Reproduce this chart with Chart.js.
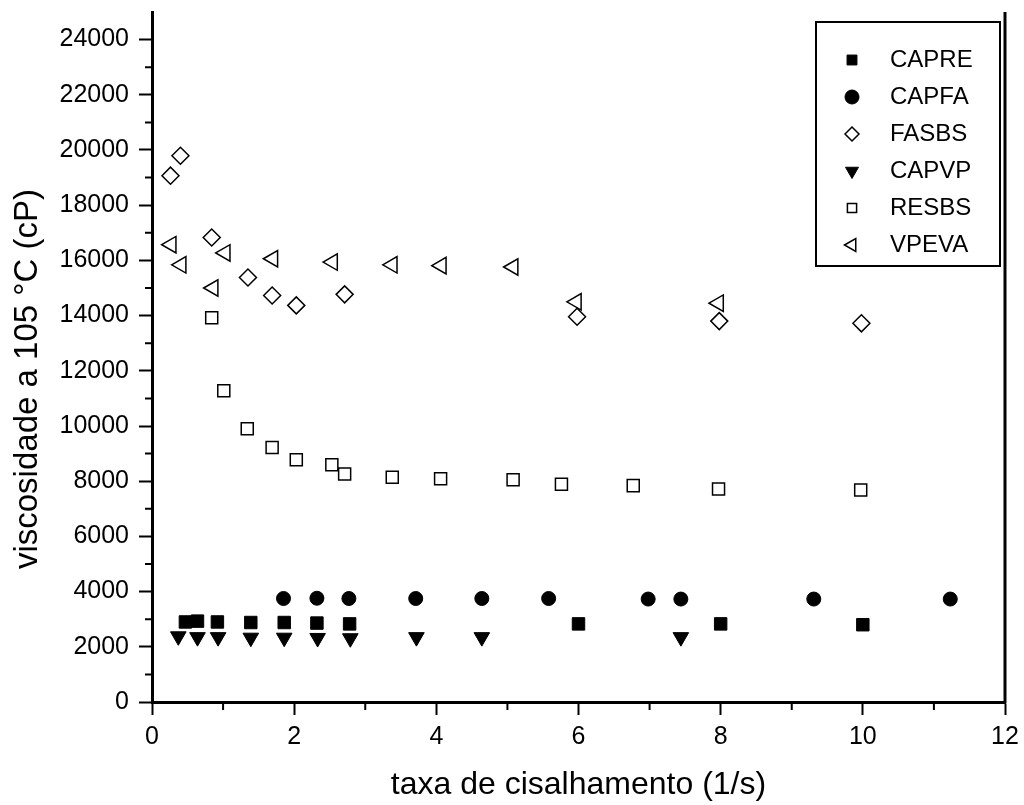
<!DOCTYPE html>
<html lang="pt">
<head>
<meta charset="UTF-8">
<title>Viscosidade a 105 °C</title>
<script src="https://cdn.jsdelivr.net/npm/chart.js"></script>
<style>
  html, body { margin: 0; padding: 0; background: #fff; }
  #wrap { width: 1024px; height: 805px; }
</style>
</head>
<body>
<div id="wrap"><canvas id="chart" width="1024" height="805"></canvas></div>
<script>
// axis ticks
const xTicks = [0, 2, 4, 6, 8, 10, 12];
const xMinor = [1, 3, 5, 7, 9, 11];
const yTicks = [0, 2000, 4000, 6000, 8000, 10000, 12000, 14000, 16000, 18000, 20000, 22000, 24000];
const yMinor = [1000, 3000, 5000, 7000, 9000, 11000, 13000, 15000, 17000, 19000, 21000, 23000];

// series
const capreX = [0.47, 0.64, 0.92, 1.39, 1.86, 2.32, 2.78, 6.0, 8.0, 10.0];
const capreY = [2900, 2930, 2900, 2880, 2880, 2860, 2830, 2830, 2830, 2800];

const capfaX = [1.85, 2.32, 2.77, 3.71, 4.64, 5.58, 6.98, 7.44, 9.31, 11.23];
const capfaY = [3750, 3760, 3750, 3750, 3750, 3750, 3730, 3730, 3730, 3730];

const fasbsX = [0.26, 0.40, 0.84, 1.35, 1.69, 2.03, 2.71, 5.98, 7.98, 9.98];
const fasbsY = [19070, 19790, 16830, 15380, 14730, 14370, 14770, 13960, 13800, 13720];

const capvpX = [0.37, 0.64, 0.93, 1.39, 1.86, 2.33, 2.79, 3.72, 4.64, 7.44];
const capvpY = [2380, 2350, 2350, 2330, 2330, 2320, 2310, 2350, 2350, 2350];

const resbsX = [0.84, 1.01, 1.34, 1.69, 2.03, 2.53, 2.71, 3.38, 4.06, 5.08, 5.76, 6.77, 7.97, 9.97];
const resbsY = [13920, 11280, 9900, 9220, 8780, 8600, 8260, 8140, 8090, 8050, 7890, 7840, 7720, 7680];

const vpevaX = [0.27, 0.41, 0.86, 1.03, 1.70, 2.54, 3.38, 4.07, 5.08, 5.97, 7.97];
const vpevaY = [16570, 15840, 15000, 16270, 16060, 15940, 15840, 15810, 15760, 14500, 14450];

const xTitle = 'taxa de cisalhamento (1/s)';
const yTitle = 'viscosidade a 105 °C (cP)';

const FONT = "'Liberation Sans', Arial, sans-serif";

function pts(xs, ys) {
  return xs.map((x, i) => ({ x: x, y: ys[i] }));
}

const datasets = [
  { label: 'CAPRE', data: pts(capreX, capreY), pointStyle: 'rect', pointRadius: 8.8,
    backgroundColor: '#000', borderColor: '#000', borderWidth: 1, legendRadius: 7 },
  { label: 'CAPFA', data: pts(capfaX, capfaY), pointStyle: 'circle', pointRadius: 7,
    backgroundColor: '#000', borderColor: '#000', borderWidth: 1, legendRadius: 7 },
  { label: 'FASBS', data: pts(fasbsX, fasbsY), pointStyle: 'rectRot', pointRadius: 8.5,
    backgroundColor: 'rgba(0,0,0,0)', borderColor: '#000', borderWidth: 1.5, legendRadius: 7 },
  { label: 'CAPVP', data: pts(capvpX, capvpY), pointStyle: 'triangle', pointRotation: 180, pointRadius: 9,
    backgroundColor: '#000', borderColor: '#000', borderWidth: 1, legendRadius: 7.5 },
  { label: 'RESBS', data: pts(resbsX, resbsY), pointStyle: 'rect', pointRadius: 8.5,
    backgroundColor: 'rgba(0,0,0,0)', borderColor: '#000', borderWidth: 1.5, legendRadius: 6.5 },
  { label: 'VPEVA', data: pts(vpevaX, vpevaY), pointStyle: 'triangle', pointRotation: 270, pointRadius: 9.5,
    backgroundColor: 'rgba(0,0,0,0)', borderColor: '#000', borderWidth: 1.5, legendRadius: 7.5 }
];

// minor ticks, right frame, y title and the boxed legend inside the plot
const frame = {
  id: 'frame',
  afterDraw(chart) {
    const { ctx, chartArea: a, scales: { x, y } } = chart;
    ctx.save();
    ctx.strokeStyle = '#000';
    ctx.lineWidth = 2;
    ctx.beginPath();
    xMinor.forEach(v => {
      const px = x.getPixelForValue(v);
      ctx.moveTo(px, a.bottom);
      ctx.lineTo(px, a.bottom + 8);
    });
    yMinor.forEach(v => {
      const py = y.getPixelForValue(v);
      ctx.moveTo(a.left, py);
      ctx.lineTo(a.left - 7, py);
    });
    ctx.stroke();

    ctx.lineWidth = 3;
    ctx.beginPath();
    ctx.moveTo(a.right, a.top);
    ctx.lineTo(a.right, a.bottom + 1.5);
    ctx.stroke();

    // y title, sits a bit below the axis middle in the original
    ctx.save();
    ctx.translate(37, y.getPixelForValue(11700));
    ctx.rotate(-Math.PI / 2);
    ctx.font = '33px ' + FONT;
    ctx.fillStyle = '#000';
    ctx.textAlign = 'center';
    ctx.textBaseline = 'alphabetic';
    ctx.fillText(yTitle, 0, 0);
    ctx.restore();

    // legend
    const bx = a.right - 189, by = a.top + 10, bw = 184, bh = 244;
    ctx.lineWidth = 2;
    ctx.strokeRect(bx, by, bw, bh);
    ctx.font = '24px ' + FONT;
    ctx.textBaseline = 'middle';
    ctx.textAlign = 'left';
    chart.data.datasets.forEach((ds, i) => {
      const cy = by + 38 + i * 37;
      ctx.fillStyle = ds.backgroundColor;
      ctx.strokeStyle = ds.borderColor;
      ctx.lineWidth = ds.borderWidth;
      Chart.helpers.drawPoint(ctx, {
        pointStyle: ds.pointStyle,
        rotation: ds.pointRotation || 0,
        radius: ds.legendRadius,
        borderWidth: ds.borderWidth
      }, bx + 36, cy);
      ctx.fillStyle = '#000';
      ctx.fillText(ds.label, bx + 74, cy);
    });
    ctx.restore();
  }
};

new Chart(document.getElementById('chart'), {
  type: 'scatter',
  data: { datasets: datasets },
  options: {
    responsive: false,
    animation: false,
    layout: { padding: { top: 12, right: 19, left: 0, bottom: 0 } },
    plugins: {
      legend: { display: false },
      tooltip: { enabled: false }
    },
    scales: {
      x: {
        type: 'linear',
        min: 0,
        max: 12,
        afterBuildTicks: s => { s.ticks = xTicks.map(v => ({ value: v })); },
        afterFit: s => { s.height = 103; s.paddingLeft = 0; s.paddingRight = 0; },
        grid: { drawOnChartArea: false, drawTicks: true, tickLength: 13, tickWidth: 2, tickColor: '#000' },
        border: { display: true, color: '#000', width: 3 },
        ticks: { color: '#000', font: { family: FONT, size: 25 }, padding: 7, maxRotation: 0,
                 callback: v => String(v) },
        title: { display: true, text: xTitle, color: '#000',
                 font: { family: FONT, size: 32 }, padding: { top: 0, bottom: 1 } }
      },
      y: {
        type: 'linear',
        min: 0,
        max: 25000,
        afterBuildTicks: s => { s.ticks = yTicks.map(v => ({ value: v })); },
        afterFit: s => { s.width = 152; s.paddingTop = 0; s.paddingBottom = 0; },
        grid: { drawOnChartArea: false, drawTicks: true, tickLength: 13, tickWidth: 2, tickColor: '#000' },
        border: { display: true, color: '#000', width: 3 },
        ticks: { color: '#000', font: { family: FONT, size: 25 }, padding: 10,
                 callback: v => String(v) }
      }
    }
  },
  plugins: [frame]
});
</script>
</body>
</html>
